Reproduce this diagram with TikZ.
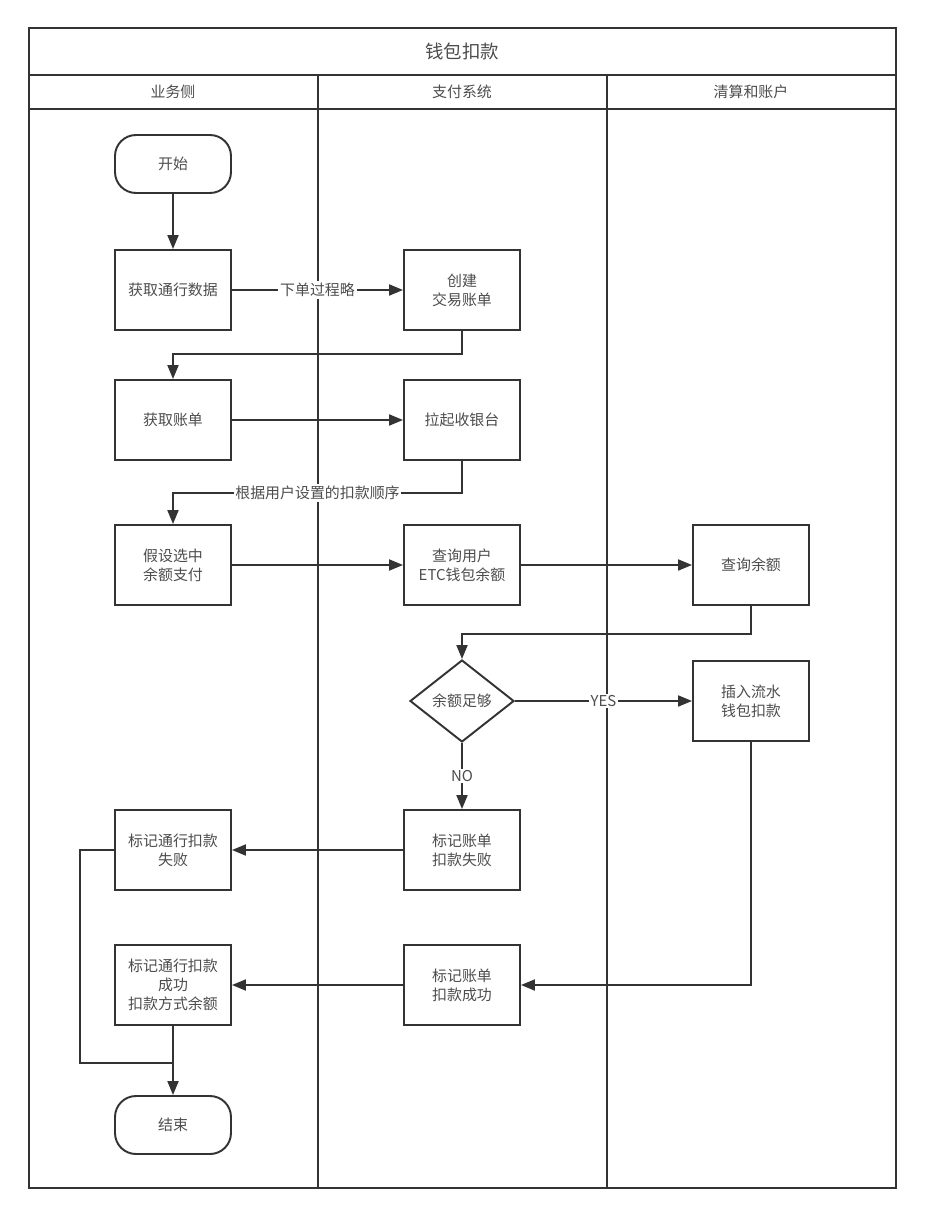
\documentclass[tikz,border=0pt]{standalone}
\usepackage{fontspec}
\setmainfont{Noto Sans CJK SC}
\usetikzlibrary{shapes.geometric,arrows.meta}
\definecolor{linegray}{HTML}{333333}
\definecolor{textgray}{HTML}{4D4D4D}
\tikzset{
  procbox/.style={
    draw=linegray,
    line width=1.1pt,
    minimum width=2.32cm,
    minimum height=1.6cm,
    align=center,
    text=textgray,
    inner sep=1pt
  },
  termbox/.style={
    procbox,
    rounded corners=0.42cm,
    minimum height=1.16cm
  },
  decidebox/.style={
    draw=linegray,
    line width=1.1pt,
    shape=diamond,
    minimum width=2.08cm,
    minimum height=1.64cm,
    text=textgray,
    inner sep=0pt
  },
  flow/.style={
    draw=linegray,
    line width=1.1pt,
    -{Triangle[length=0.28cm,width=0.22cm]}
  },
  flowlabel/.style={
    fill=white,
    inner sep=1pt,
    text=textgray
  },
  lane/.style={
    draw=linegray,
    line width=1.1pt
  },
  every picture/.style={
    font=\fontsize{8.5}{10.8}\selectfont
  }
}
\begin{document}
\begin{tikzpicture}[x=0.02cm,y=-0.02cm]
            \useasboundingbox[fill=white] (0,0) rectangle (925,1216);
            % swimlanes
            \draw[lane] (29,28) rectangle (896,1188);
            \draw[lane] (29,75)--(896,75);
            \draw[lane] (29,109)--(896,109);
            \draw[lane] (318,75)--(318,1188);
            \draw[lane] (607,75)--(607,1188);
            \node[text=textgray,font=\fontsize{10.5}{12}\selectfont] (title) at (462,51) {钱包扣款};
            \node[text=textgray] (laneA) at (173,92) {业务侧};
            \node[text=textgray] (laneB) at (462,92) {支付系统};
            \node[text=textgray] (laneC) at (751,92) {清算和账户};
            % steps
            \node[termbox] (start) at (173,164) {开始};
            \node[procbox] (getpass) at (173,290) {获取通行数据};
            \node[procbox] (mkbill) at (462,290) {创建\\交易账单};
            \node[procbox] (getbill) at (173,420) {获取账单};
            \node[procbox] (cashier) at (462,420) {拉起收银台};
            \node[procbox] (pickbal) at (173,565) {假设选中\\余额支付};
            \node[procbox] (askbal) at (462,565) {查询用户\\ETC钱包余额};
            \node[procbox] (qrybal) at (751,565) {查询余额};
            \node[decidebox] (enough) at (462,701) {余额足够};
            \node[procbox] (deduct) at (751,701) {插入流水\\钱包扣款};
            \node[procbox] (billfail) at (462,850) {标记账单\\扣款失败};
            \node[procbox] (passfail) at (173,850) {标记通行扣款\\失败};
            \node[procbox] (billok) at (462,985) {标记账单\\扣款成功};
            \node[procbox] (passok) at (173,985) {标记通行扣款\\成功\\扣款方式余额};
            \node[termbox] (stop) at (173,1125) {结束};
            \coordinate (join) at (173,1063);
            % flows
            \draw[flow] (start)--(getpass);
            \draw[flow] (getpass)--node[flowlabel]{下单过程略}(mkbill);
            \draw[flow] (mkbill.south)--++(0,23)-|(getbill.north);
            \draw[flow] (getbill)--(cashier);
            \draw[flow] (cashier.south)--++(0,32)-|node[flowlabel,pos=0.25]{根据用户设置的扣款顺序}(pickbal.north);
            \draw[flow] (pickbal)--(askbal);
            \draw[flow] (askbal)--(qrybal);
            \draw[flow] (qrybal.south)--++(0,28)-|(enough.north);
            \draw[flow] (enough)--node[flowlabel]{YES}(deduct);
            \draw[flow] (enough)--node[flowlabel]{NO}(billfail);
            \draw[flow] (billfail)--(passfail);
            \draw[flow] (deduct.south)|-(billok.east);
            \draw[flow] (billok)--(passok);
            \draw[flow] (passok)--(stop);
            \draw[lane] (passfail.west)--++(-34,0)|-(join);
        \end{tikzpicture}
\end{document}
